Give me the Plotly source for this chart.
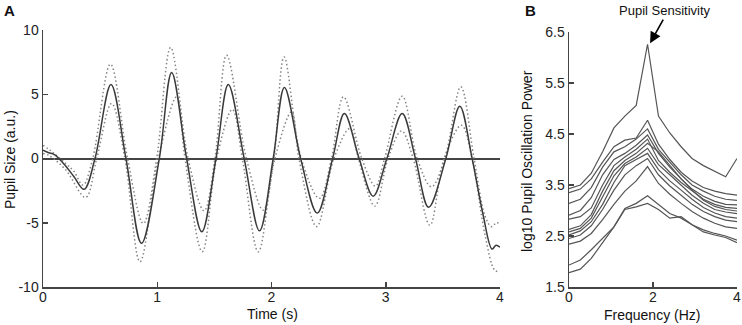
import plotly.graph_objects as go

# ---------------- Panel A data (time course) ----------------
t_mean = [0.00, 0.05, 0.10, 0.20, 0.27, 0.36, 0.455, 0.595, 0.726, 0.862, 1.018, 1.126, 1.257, 1.390,
          1.514, 1.622, 1.761, 1.895, 2.015, 2.113, 2.255, 2.400, 2.535, 2.638, 2.767, 2.890, 3.010,
          3.144, 3.260, 3.375, 3.526, 3.648, 3.756, 3.850, 3.930, 3.965, 4.000]
v_mean = [0.65, 0.45, 0.30, -0.60, -1.40, -2.40, 0.00, 5.75, 0.00, -6.60, 0.00, 6.70, 0.00, -5.70,
          0.00, 5.75, 0.00, -5.63, 0.00, 5.53, 0.00, -4.25, 0.00, 3.50, 0.00, -2.93, 0.00,
          3.50, 0.00, -3.80, 0.00, 4.07, 0.00, -4.30, -7.05, -6.75, -6.90]

t_upper = [0.00, 0.06, 0.20, 0.27, 0.35, 0.435, 0.59, 0.74, 0.878, 0.995, 1.117, 1.27, 1.41, 1.505,
           1.607, 1.78, 1.927, 2.02, 2.11, 2.26, 2.42, 2.525, 2.63, 2.79, 2.91, 2.99, 3.144, 3.275,
           3.40, 3.517, 3.657, 3.773, 3.87, 3.925, 3.97, 4.00]
v_upper = [1.03, 0.65, -0.40, -1.00, -2.07, 0.00, 7.34, 0.00, -5.06, 0.00, 8.64, 0.00, -4.07, 0.00,
           8.04, 0.00, -4.02, 0.00, 7.90, 0.00, -3.10, 0.00, 4.80, 0.00, -2.15, 0.00, 4.85, 0.00,
           -2.20, 0.00, 5.58, 0.00, -4.50, -5.30, -5.00, -5.06]

t_lower = [0.00, 0.06, 0.20, 0.373, 0.47, 0.60, 0.717, 0.849, 1.01, 1.17, 1.243, 1.394, 1.52, 1.657,
           1.745, 1.884, 2.03, 2.176, 2.24, 2.395, 2.546, 2.686, 2.76, 2.905, 3.02, 3.138, 3.24,
           3.386, 3.511, 3.663, 3.756, 3.87, 3.955, 4.00]
v_lower = [0.40, 0.20, -0.90, -3.03, 0.00, 4.28, 0.00, -8.04, 0.00, 4.80, 0.00, -7.26, 0.00, 3.81,
           0.00, -7.26, 0.00, 3.63, 0.00, -5.30, 0.00, 2.33, 0.00, -3.70, 0.00, 2.15, 0.00,
           -5.19, 0.00, 2.59, 0.00, -6.00, -8.70, -8.80]

# ---------------- Panel B data (spectra) ----------------
freq = [0.00, 0.27, 0.53, 0.80, 1.07, 1.33, 1.60, 1.87, 2.13, 2.40, 2.67, 2.93, 3.20, 3.47, 3.73, 4.00]
spectra = [
    [3.43, 3.50, 3.73, 4.15, 4.62, 4.85, 5.06, 6.26, 4.85, 4.52, 4.25, 4.02, 3.88, 3.77, 3.66, 4.02],
    [3.35, 3.42, 3.62, 3.95, 4.25, 4.38, 4.42, 4.77, 4.30, 4.00, 3.75, 3.58, 3.45, 3.38, 3.33, 3.30],
    [3.14, 3.22, 3.45, 3.85, 4.15, 4.25, 4.40, 4.60, 4.20, 3.95, 3.70, 3.50, 3.38, 3.28, 3.22, 3.20],
    [2.91, 3.00, 3.25, 3.70, 4.00, 4.12, 4.28, 4.48, 4.12, 3.85, 3.62, 3.42, 3.28, 3.18, 3.12, 3.11],
    [2.83, 2.88, 3.05, 3.50, 3.88, 4.05, 4.20, 4.40, 3.98, 3.75, 3.55, 3.38, 3.22, 3.12, 3.06, 3.04],
    [2.63, 2.70, 2.92, 3.38, 3.78, 3.98, 4.12, 4.32, 4.15, 3.88, 3.62, 3.40, 3.20, 3.08, 3.02, 2.99],
    [2.58, 2.65, 2.85, 3.25, 3.68, 3.92, 4.05, 4.22, 3.90, 3.70, 3.50, 3.30, 3.14, 3.02, 2.97, 2.94],
    [2.52, 2.60, 2.78, 3.12, 3.55, 3.88, 4.00, 4.12, 3.80, 3.58, 3.40, 3.22, 3.06, 2.95, 2.88, 2.85],
    [2.45, 2.52, 2.70, 3.02, 3.40, 3.70, 3.88, 4.02, 3.70, 3.48, 3.30, 3.12, 2.98, 2.88, 2.81, 2.78],
    [2.34, 2.40, 2.55, 2.82, 3.12, 3.38, 3.58, 3.86, 3.53, 3.32, 3.14, 2.98, 2.85, 2.75, 2.68, 2.65],
    [1.93, 2.03, 2.23, 2.45, 2.68, 3.04, 3.14, 3.29, 3.11, 2.94, 2.85, 2.72, 2.62, 2.55, 2.50, 2.42],
    [1.78, 1.85, 2.06, 2.36, 2.68, 3.02, 3.07, 3.14, 3.02, 2.85, 2.88, 2.72, 2.58, 2.52, 2.47, 2.37],
]

a_xticks = [0, 1, 2, 3, 4]
a_yticks = [-10, -5, 0, 5, 10]
b_xticks = [0, 2, 4]
b_yticks = [1.5, 2.5, 3.5, 4.5, 5.5, 6.5]

W, H = 742, 325
FONT = "Arial, Liberation Sans, sans-serif"
AX = "#444444"

fig = go.Figure()

DOT = "1.5px,2.5px"
# Panel A traces
fig.add_trace(go.Scatter(x=t_upper, y=v_upper, mode="lines", line=dict(color="#858585", width=1.5, dash=DOT, shape="spline"),
                         xaxis="x", yaxis="y", showlegend=False, hoverinfo="skip"))
fig.add_trace(go.Scatter(x=t_lower, y=v_lower, mode="lines", line=dict(color="#858585", width=1.5, dash=DOT, shape="spline"),
                         xaxis="x", yaxis="y", showlegend=False, hoverinfo="skip"))
fig.add_trace(go.Scatter(x=t_mean, y=v_mean, mode="lines", line=dict(color="#3a3a3a", width=1.5, shape="spline"),
                         xaxis="x", yaxis="y", showlegend=False, hoverinfo="skip"))

# Panel B traces
for s in spectra:
    fig.add_trace(go.Scatter(x=freq, y=s, mode="lines", line=dict(color="#555555", width=1.2),
                             xaxis="x2", yaxis="y2", showlegend=False, hoverinfo="skip"))

def px_x(p):
    return p / W

def px_y(p):
    return 1 - p / H

axis_common = dict(showline=True, linecolor=AX, linewidth=1.5, ticks="inside", ticklen=5,
                   tickcolor=AX, tickwidth=1.5, showgrid=False, automargin=False,
                   tickfont=dict(family=FONT, size=14, color="#222222"), fixedrange=True)

fig.update_layout(
    width=W, height=H,
    margin=dict(l=0, r=0, t=0, b=0, autoexpand=False),
    paper_bgcolor="white", plot_bgcolor="white",
    xaxis=dict(domain=[px_x(43), px_x(500)], range=[0, 4], tickvals=a_xticks,
               ticktext=[str(v) for v in a_xticks], zeroline=False, anchor="y",
               ticklabelstandoff=-3, **axis_common),
    yaxis=dict(domain=[px_y(287), px_y(30)], range=[-10, 10], tickvals=a_yticks,
               ticktext=[str(v) for v in a_yticks], zeroline=True, zerolinecolor=AX,
               zerolinewidth=2, anchor="x", **axis_common),
    xaxis2=dict(domain=[px_x(569), px_x(737)], range=[0, 4], tickvals=b_xticks,
                ticktext=[str(v) for v in b_xticks], zeroline=False, anchor="y2",
                ticklabelstandoff=-3, **axis_common),
    yaxis2=dict(domain=[px_y(287), px_y(32)], range=[1.5, 6.5], tickvals=b_yticks,
                ticktext=[str(v) for v in b_yticks], zeroline=False, anchor="x2", **axis_common),
)

ann = []
def txt(text, x, y, size=14, bold=False, angle=0):
    ann.append(dict(text=("<b>%s</b>" % text) if bold else text, x=px_x(x), y=px_y(y), xref="paper", yref="paper",
                    showarrow=False, xanchor="center", yanchor="middle", textangle=angle,
                    font=dict(family=FONT, size=size, color="#111111")))

txt("A", 9, 10, size=15, bold=True)
txt("B", 530, 10, size=15, bold=True)
txt("Time (s)", 272, 314)
txt("Frequency (Hz)", 652, 315)
txt("Pupil Size (a.u.)", 10, 160, angle=-90)
txt("log10 Pupil Oscillation Power", 527, 161, angle=-90)
txt("Pupil Sensitivity", 665, 10, size=13)
ann.append(dict(x=1.93, y=6.28, xref="x2", yref="y2", text="", showarrow=True, ax=14, ay=-25,
                arrowhead=2, arrowsize=1.4, arrowwidth=1.6, arrowcolor="#000000", standoff=0))
fig.update_layout(annotations=ann)

fig.write_html("out.html", config={"displayModeBar": False, "staticPlot": True},
               post_script="document.body.style.margin='0';document.body.style.padding='0';document.body.style.overflow='hidden';")
